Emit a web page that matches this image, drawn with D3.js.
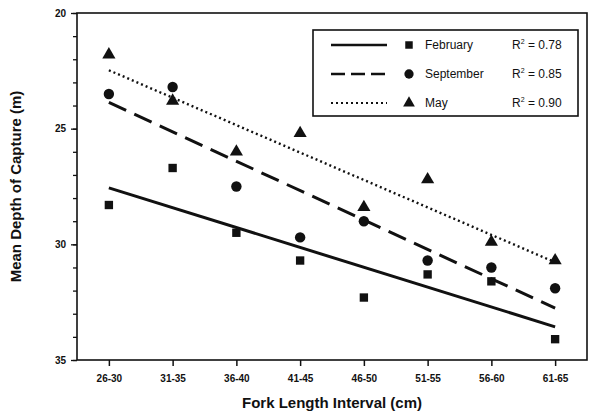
<!DOCTYPE html>
<html>
<head>
<meta charset="utf-8">
<script src="https://cdn.jsdelivr.net/npm/d3@7"></script>
<style>
  body { margin: 0; background: #fff; }
  text { font-family: "Liberation Sans", Arial, sans-serif; fill: #111; }
</style>
</head>
<body>
<div id="chart"></div>
<script>
// =======================
// Data
// =======================
const intervals = ["26-30", "31-35", "36-40", "41-45", "46-50", "51-55", "56-60", "61-65"];
const february = [28.3, 26.7, 29.5, 30.7, 32.3, 31.3, 31.6, 34.1];
const september = [23.5, 23.2, 27.5, 29.7, 29.0, 30.7, 31.0, 31.9];
const may = [21.8, 23.8, 26.0, 25.2, 28.4, 27.2, 29.9, 30.7];
const seriesNames = ["February", "September", "May"];
const rSquared = ["0.78", "0.85", "0.90"];
const yTicks = [20, 25, 30, 35];

const width = 590, height = 416;
const margin = { top: 13, right: 3, bottom: 56, left: 77 };
const ink = "#111";

const svg = d3.select("#chart").append("svg")
    .attr("width", width)
    .attr("height", height);

// =======================
// Scales
// =======================
const x = d3.scalePoint()
    .domain(intervals)
    .range([margin.left, width - margin.right])
    .padding(0.5);

const y = d3.scaleLinear()
    .domain([20, 35])
    .range([margin.top, height - margin.bottom]);

// frame
svg.append("rect")
    .attr("x", margin.left)
    .attr("y", margin.top)
    .attr("width", width - margin.left - margin.right)
    .attr("height", height - margin.top - margin.bottom)
    .attr("fill", "none")
    .attr("stroke", ink)
    .attr("stroke-width", 1.6);

// =======================
// Axes
// =======================
const xAxis = svg.append("g")
    .attr("transform", `translate(0,${height - margin.bottom})`)
    .call(d3.axisBottom(x).tickSize(6).tickPadding(9));
xAxis.select(".domain").remove();
xAxis.selectAll("line").attr("stroke", ink).attr("stroke-width", 1.5);
xAxis.selectAll("text")
    .style("font-size", "10px")
    .style("font-weight", "bold")
    .attr("fill", ink);

const yMinor = svg.append("g")
    .attr("transform", `translate(${margin.left},0)`)
    .call(d3.axisLeft(y).ticks(15).tickSize(4).tickFormat(""));
yMinor.select(".domain").remove();
yMinor.selectAll("line").attr("stroke", ink).attr("stroke-width", 1.3);

const yAxis = svg.append("g")
    .attr("transform", `translate(${margin.left},0)`)
    .call(d3.axisLeft(y).tickValues(yTicks).tickSize(6).tickPadding(5));
yAxis.select(".domain").remove();
yAxis.selectAll("line").attr("stroke", ink).attr("stroke-width", 1.3);
yAxis.selectAll("text")
    .style("font-size", "10px")
    .style("font-weight", "bold")
    .attr("fill", ink);

// axis titles
svg.append("text")
    .attr("x", (margin.left + width - margin.right) / 2)
    .attr("y", 408)
    .attr("text-anchor", "middle")
    .style("font-size", "15px")
    .style("font-weight", "bold")
    .text("Fork Length Interval (cm)");

svg.append("text")
    .attr("transform", `translate(21,${(margin.top + height - margin.bottom) / 2}) rotate(-90)`)
    .attr("text-anchor", "middle")
    .style("font-size", "15px")
    .style("font-weight", "bold")
    .text("Mean Depth of Capture (m)");

// =======================
// Series
// =======================
const series = [
    { name: seriesNames[0], values: february, shape: d3.symbolSquare, size: 70, dash: null },
    { name: seriesNames[1], values: september, shape: d3.symbolCircle, size: 85, dash: "19,9" },
    { name: seriesNames[2], values: may, shape: d3.symbolTriangle, size: 75, dash: "2,3" }
];

// least squares fit over interval index
function fit(values) {
    const n = values.length;
    const xs = d3.range(n);
    const mx = d3.mean(xs), my = d3.mean(values);
    const sxy = d3.sum(xs, (v, i) => (v - mx) * (values[i] - my));
    const sxx = d3.sum(xs, v => (v - mx) * (v - mx));
    const slope = sxy / sxx;
    return i => my + slope * (i - mx);
}

const line = d3.line()
    .x(d => x(d.cat))
    .y(d => y(d.value));

series.forEach(s => {
    const f = fit(s.values);
    const pts = [0, intervals.length - 1].map(i => ({ cat: intervals[i], value: f(i) }));

    svg.append("path")
        .attr("d", line(pts))
        .attr("fill", "none")
        .attr("stroke", ink)
        .attr("stroke-width", s.dash === "2,3" ? 2.4 : 3)
        .attr("stroke-dasharray", s.dash);

    svg.append("g")
        .selectAll("path")
        .data(s.values)
        .enter()
        .append("path")
        .attr("transform", (d, i) => `translate(${x(intervals[i])},${y(d)})`)
        .attr("d", d3.symbol().type(s.shape).size(s.size))
        .attr("fill", ink);
});

// =======================
// Legend
// =======================
const legend = svg.append("g").attr("transform", "translate(313,30)");

legend.append("rect")
    .attr("width", 265)
    .attr("height", 86)
    .attr("fill", "#fff")
    .attr("stroke", ink)
    .attr("stroke-width", 1.6);

series.forEach((s, i) => {
    const row = legend.append("g").attr("transform", `translate(0,${15 + i * 29})`);

    row.append("line")
        .attr("x1", 18)
        .attr("x2", 74)
        .attr("stroke", ink)
        .attr("stroke-width", s.dash === "2,3" ? 2 : 2.5)
        .attr("stroke-dasharray", s.dash === "19,9" ? "14,6" : s.dash);

    row.append("path")
        .attr("transform", "translate(96,0)")
        .attr("d", d3.symbol().type(s.shape).size(s.size * 0.8))
        .attr("fill", ink);

    row.append("text")
        .attr("x", 112)
        .attr("y", 4)
        .style("font-size", "12px")
        .text(s.name);

    const r = row.append("text")
        .attr("x", 199)
        .attr("y", 4)
        .style("font-size", "12px");
    r.append("tspan").text("R");
    r.append("tspan").attr("dy", -5).style("font-size", "7px").text("2");
    r.append("tspan").attr("dy", 5).text(` = ${rSquared[i]}`);
});
</script>
</body>
</html>
